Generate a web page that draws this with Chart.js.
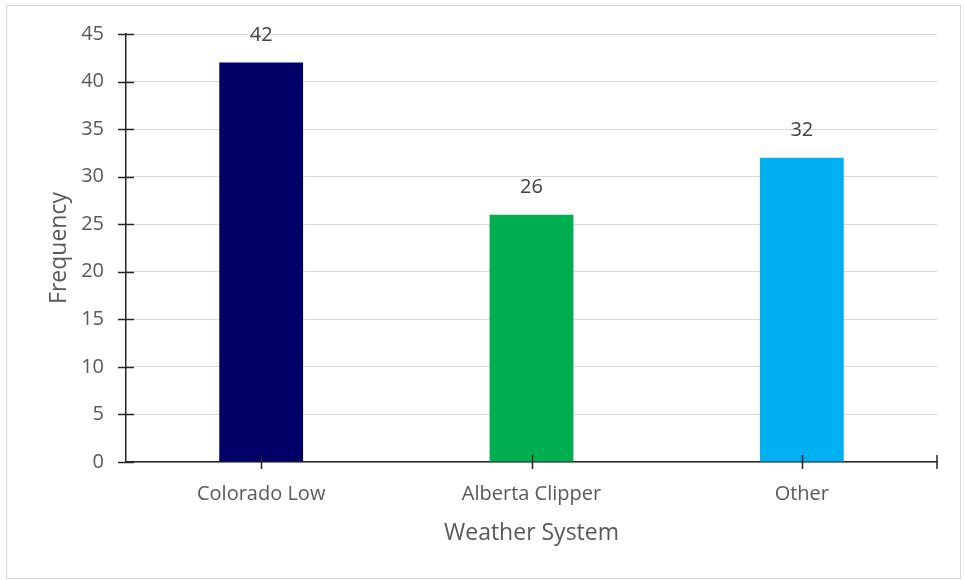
<!DOCTYPE html>
<html>
<head>
<meta charset="utf-8">
<script src="https://cdn.jsdelivr.net/npm/chart.js@4.4.0/dist/chart.umd.min.js"></script>
<style>
  html, body { margin: 0; padding: 0; background: #fff; }
  #wrap { position: relative; width: 964px; height: 580px; }
  #frame { position: absolute; left: 6px; top: 5px; width: 953px; height: 572px; border: 1px solid #d9d9d9; }
  #chart { position: absolute; left: 0; top: 0; }
</style>
</head>
<body>
<div id="wrap">
  <div id="frame"></div>
  <canvas id="chart" width="964" height="580"></canvas>
</div>
<script>
// dữ liệu biểu đồ
const categories = ['Colorado Low', 'Alberta Clipper', 'Other'];
const frequencies = [42, 26, 32];
const barColors = ['#000066', '#00b050', '#00b0f0'];
const yTicks = [0, 5, 10, 15, 20, 25, 30, 35, 40, 45];

const FONT = "'Open Sans', sans-serif";
const TEXT = '#595959';
const AXIS = '#262626';

// vẽ các vạch chia cắt ngang trục (kiểu Excel)
const crossTicks = {
    id: 'crossTicks',
    afterDatasetsDraw(chart) {
        const { ctx, scales: { x, y }, chartArea } = chart;
        ctx.save();
        ctx.strokeStyle = AXIS;
        ctx.lineWidth = 1.5;
        ctx.beginPath();
        yTicks.forEach(v => {
            const py = Math.round(y.getPixelForValue(v)) + 0.5;
            ctx.moveTo(chartArea.left - 8, py);
            ctx.lineTo(chartArea.left + 8, py);
        });
        categories.forEach((c, i) => {
            const px = Math.round(x.getPixelForValue(i)) + 0.5;
            ctx.moveTo(px, chartArea.bottom - 7);
            ctx.lineTo(px, chartArea.bottom + 7);
        });
        const rx = chartArea.right;
        ctx.moveTo(rx, chartArea.bottom - 7);
        ctx.lineTo(rx, chartArea.bottom + 7);
        ctx.stroke();
        ctx.restore();
    }
};

// nhãn giá trị trên mỗi cột
const valueLabels = {
    id: 'valueLabels',
    afterDatasetsDraw(chart) {
        const { ctx } = chart;
        const meta = chart.getDatasetMeta(0);
        ctx.save();
        ctx.font = '20px ' + FONT;
        ctx.fillStyle = '#404040';
        ctx.textAlign = 'center';
        ctx.textBaseline = 'middle';
        meta.data.forEach((bar, i) => {
            ctx.fillText(String(frequencies[i]), bar.x, bar.y - 27);
        });
        ctx.restore();
    }
};

new Chart(document.getElementById('chart'), {
    type: 'bar',
    data: {
        labels: categories,
        datasets: [{
            label: 'Frequency',
            data: frequencies,
            backgroundColor: barColors,
            borderWidth: 0,
            categoryPercentage: 1,
            barPercentage: 0.31
        }]
    },
    options: {
        responsive: false,
        animation: false,
        layout: { padding: { left: 0, top: 33, right: 27, bottom: 0 } },
        plugins: {
            legend: { display: false },
            tooltip: { enabled: false }
        },
        scales: {
            x: {
                afterFit(scale) { scale.height = 118; },
                grid: { display: false, drawTicks: false },
                border: { display: true, color: AXIS, width: 1.5 },
                ticks: { color: TEXT, font: { family: FONT, size: 20 }, padding: 20 },
                title: {
                    display: true,
                    text: 'Weather System',
                    color: TEXT,
                    font: { family: FONT, size: 23 },
                    padding: { top: 0, bottom: 33 }
                }
            },
            y: {
                min: 0,
                max: 45,
                afterFit(scale) { scale.width = 126; },
                afterBuildTicks(scale) { scale.ticks = yTicks.map(v => ({ value: v })); },
                grid: { color: '#d9d9d9', lineWidth: 1, drawTicks: false },
                border: { display: true, color: AXIS, width: 1.5 },
                ticks: { color: TEXT, font: { family: FONT, size: 20 }, padding: 22 },
                title: {
                    display: true,
                    text: 'Frequency',
                    color: TEXT,
                    font: { family: FONT, size: 23 },
                    padding: { top: 46, bottom: 0 }
                }
            }
        }
    },
    plugins: [crossTicks, valueLabels]
});
</script>
</body>
</html>
